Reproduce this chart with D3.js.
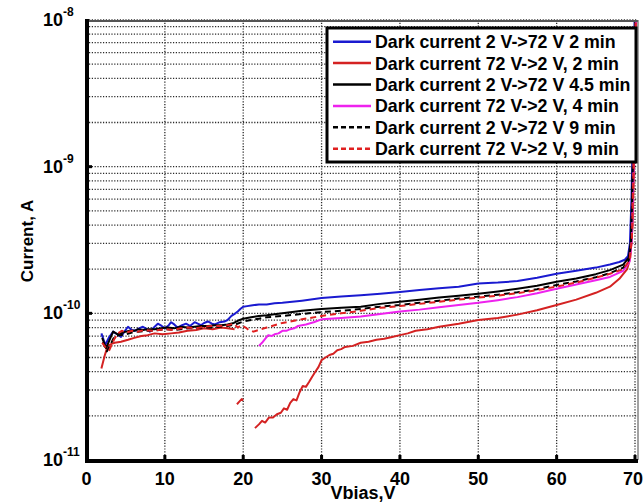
<!DOCTYPE html>
<html><head><meta charset="utf-8">
<script src="https://cdn.jsdelivr.net/npm/d3@7"></script>
<style>
body{margin:0;background:#fff}
svg{display:block}
text{font-family:Arial,"Liberation Sans",Helvetica,sans-serif;font-weight:bold;fill:#000}
</style>
</head><body>
<svg id="chart" width="644" height="504"></svg>
<script>
// ---------- data (V in volts, current in pA) ----------
const xTickValues = [0, 10, 20, 30, 40, 50, 60, 70];
const yTickExponents = [-8, -9, -10, -11];
const legendLabels = [
  "Dark current 2 V->72 V 2 min",
  "Dark current 72 V->2 V, 2 min",
  "Dark current 2 V->72 V 4.5 min",
  "Dark current 72 V->2 V, 4 min",
  "Dark current 2 V->72 V 9 min",
  "Dark current 72 V->2 V, 9 min"
];
const xTitle = "Vbias,V";
const yTitle = "Current, A";

const blue2min = [[1.9,73],[2.4,61],[2.9,69],[3.4,75],[3.9,72],[4.4,69],[4.9,76],[5.3,81],[5.8,77],[6.2,76],[6.7,79],[7.2,81],[7.7,78],[8.1,75],[8.6,80],[9.1,85],[9.6,82],[10,79],[10.5,83],[10.8,87],[11.2,84],[11.6,80],[12.2,83],[12.7,85],[13.2,82],[13.8,87],[14.2,85],[14.6,83],[15,86],[15.5,88],[16,85],[16.4,84],[17,87],[17.6,88],[18,90],[18.5,96],[19,100],[19.3,103],[19.7,108],[20,111],[20.5,112],[21,113],[22,115],[23,115],[24,117],[25,118],[27.5,122],[30,127],[32.5,130],[35,133],[37.5,136],[40,140],[42.5,144],[45,148],[47.5,152],[50,160],[52.5,162],[55,166],[57.5,175],[60,186],[62.5,195],[65,205],[66.8,215],[68,224],[68.7,232],[69.1,245],[69.35,300],[69.55,600],[69.75,2000],[69.95,10000]];

const red2min = [[1.9,42],[2.3,51],[2.7,60],[3.2,62],[3.6,63],[4.4,64],[5.3,66],[6.1,68],[7.0,70],[7.8,71],[8.7,73],[9.7,72],[10.8,73],[11.8,74],[12.9,76],[14.0,77],[15.0,79],[16.1,78],[17.2,80],[18.0,79],[18.9,78],null,[19.2,24],[19.5,25],[19.8,26],[20.0,25.5],null,[21.5,16.5],[22.0,17.5],[22.4,18.5],[22.8,18],[23.3,19.5],[23.8,19.5],[24.3,20.5],[24.8,21],[25.2,22.5],[25.6,22],[26.0,24.5],[26.4,26],[26.8,25.5],[27.2,29],[27.6,32],[28.0,31.5],[28.4,34],[28.8,37],[29.2,40],[29.6,43],[30.0,48],[30.5,50],[31,52],[31.5,53],[32,56],[32.5,57],[33,59],[34,60],[35,63],[36,64],[37,66],[38,67],[39,69],[40,71],[41,73],[42,76],[43.5,78],[45,81],[47.5,85],[50,90],[52.5,93],[55,98],[57.5,105],[60,114],[62.5,124],[65,138],[66.8,152],[68,172],[69,200],[69.4,240],[69.7,400],[69.9,1200],[70.05,4000],[70.15,10000]];

const black45min = [[2.0,68],[2.5,58],[3.0,67],[3.4,75],[4.0,72],[4.4,73],[5.0,75],[5.5,76],[6.1,76],[6.6,78],[7.2,77],[7.8,78],[8.7,78],[9.5,79],[10.3,80],[11.2,79],[12.0,81],[12.9,80],[13.8,81],[14.6,82],[15.5,82],[16.4,83],[17.2,83],[18.0,84],[18.8,86],[19.3,89],[20,92],[21,94],[22,96],[23,97],[25,100],[27.5,104],[30,107],[32.5,109],[35,111],[37.5,116],[40,120],[42.5,124],[45,128],[47.5,132],[50,136],[52.5,141],[55,147],[57.5,154],[60,164],[62.5,173],[65,185],[66.8,197],[68.5,215],[69.2,240],[69.5,320],[69.7,900],[69.85,3500],[70,10000]];

const magenta4min = [[22.0,60],[22.4,63],[22.8,67],[23.2,71],[23.6,70],[24.0,72],[24.5,73],[25.0,76],[25.5,76],[26.0,78],[26.5,79],[27.0,82],[27.5,83],[28,84],[29,87],[30,91],[32.5,93],[35,95],[37.5,99],[40,103],[42.5,106],[45,110],[47.5,114],[50,118],[52.5,123],[55,129],[57.5,137],[60,147],[62.5,157],[65,168],[66.8,177],[68.5,195],[69.3,225],[69.6,320],[69.8,900],[69.95,3500],[70.1,10000]];

const black9min = [[2.1,64],[2.6,55],[3.1,62],[3.6,70],[4.2,71],[5.0,72],[5.8,74],[6.6,75],[7.5,76],[8.4,76],[9.3,77],[10.2,78],[11.1,77],[12.0,78],[13.0,79],[14.0,79],[15.0,80],[16.0,80],[17.0,81],[18.0,82],[19.0,84],[20,88],[21,90],[22,92],[23,94],[25,96],[27.5,99],[30,102],[32.5,104],[35,107],[37.5,111],[40,114],[42.5,118],[45,122],[47.5,126],[50,130],[52.5,134],[55,139],[57.5,146],[60,156],[62.5,165],[65,176],[66.8,188],[68.5,205],[69.2,230],[69.5,300],[69.7,800],[69.85,3000],[70,10000]];

const red9min = [[2.0,63],[2.5,58],[2.9,56],[3.5,66],[4.0,73],[4.5,76],[5.1,74],[5.8,76],[6.5,75],[7.4,77],[8.3,76],[9.2,77],[10.0,78],[11.0,77],[12.0,79],[13.0,80],[14.0,79],[15.0,81],[16.0,82],[17.0,82],[18.0,83],[18.8,85],[19.3,80],[19.8,83],[20.3,80],[20.7,77],[21.3,75],[22,77],[23,80],[24,83],[25,86],[27.5,91],[30,96],[32.5,100],[35,104],[37.5,109],[40,112],[42.5,116],[45,120],[47.5,124],[50,128],[52.5,132],[55,137],[57.5,144],[60,152],[62.5,162],[65,175],[66.8,186],[68.5,200],[69.3,230],[69.6,320],[69.8,900],[69.95,3000],[70.1,10000]];

const seriesData = [blue2min, red2min, black45min, magenta4min, black9min, red9min];

// ---------- styles ----------
const seriesStyle = [
  {color:"#1a1ad0", dash:null},
  {color:"#d42222", dash:null},
  {color:"#000000", dash:null},
  {color:"#ee22ee", dash:null},
  {color:"#000000", dash:"6,4"},
  {color:"#e02020", dash:"6,4"}
];

const svg = d3.select("#chart");
const L = 87, R = 635, T = 20, B = 460;
const x = d3.scaleLinear().domain([0,70]).range([L-0.5, R]);
const y = d3.scaleLog().domain([1e-11,1e-8]).range([B, T]);

// clip
svg.append("defs").append("clipPath").attr("id","clip")
  .append("rect").attr("x",L).attr("y",T).attr("width",640-L).attr("height",B-T);

// grid
const gridG = svg.append("g");
const minorVals = [];
for (let e=-11; e<-8; e++) for (let k=1; k<=9; k++) minorVals.push(k*Math.pow(10,e));
minorVals.push(1e-8);
gridG.selectAll("line.h").data(minorVals).join("line")
  .attr("x1",L+2).attr("x2",R+2)
  .attr("y1",d=>y(d)).attr("y2",d=>y(d))
  .attr("stroke","#2a2a2a").attr("stroke-width",1.3).attr("stroke-dasharray","1.2,1.6");
gridG.selectAll("line.v").data(xTickValues.filter(d=>d>0)).join("line")
  .attr("x1",d=>x(d)).attr("x2",d=>x(d))
  .attr("y1",T).attr("y2",B)
  .attr("stroke","#2a2a2a").attr("stroke-width",1.3).attr("stroke-dasharray","1.2,1.6");

// curves
const line = d3.line()
  .defined(d=>d!==null)
  .x(d=>x(d[0])).y(d=>y(d[1]*1e-12));
const curveG = svg.append("g").attr("clip-path","url(#clip)");
seriesData.forEach((s,i)=>{
  curveG.append("path").datum(s)
    .attr("d", line)
    .attr("fill","none")
    .attr("stroke", seriesStyle[i].color)
    .attr("stroke-width", 2)
    .attr("stroke-linejoin","round")
    .attr("stroke-dasharray", seriesStyle[i].dash);
});

// box: top & right thin
svg.append("line").attr("x1",L).attr("x2",638).attr("y1",T+1).attr("y2",T+1)
  .attr("stroke","#555").attr("stroke-width",2);
svg.append("line").attr("x1",638).attr("x2",638).attr("y1",T).attr("y2",B)
  .attr("stroke","#666").attr("stroke-width",1.2);

// axes (thick)
svg.append("line").attr("x1",L).attr("x2",L).attr("y1",T-1).attr("y2",B+3)
  .attr("stroke","#000").attr("stroke-width",4);
svg.append("line").attr("x1",L-2).attr("x2",638).attr("y1",B+1).attr("y2",B+1)
  .attr("stroke","#000").attr("stroke-width",4);

// ticks
svg.selectAll("rect.xt").data(xTickValues.filter(d=>d>0)).join("rect")
  .attr("x",d=>x(d)-1.5).attr("y",B-5).attr("width",3).attr("height",5).attr("fill","#000");
svg.selectAll("rect.yt").data([-9,-10]).join("rect")
  .attr("x",L).attr("y",d=>y(Math.pow(10,d))-1.5).attr("width",5).attr("height",3).attr("fill","#000");

// x tick labels
svg.selectAll("text.xl").data(xTickValues).join("text")
  .attr("x",d=>x(d)+(d===70?-2:0)).attr("y",485)
  .attr("text-anchor","middle").attr("font-size",18)
  .text(d=>d);

// y tick labels
yTickExponents.forEach(e=>{
  const ty = y(Math.pow(10,e));
  const t = svg.append("text").attr("x",43).attr("y",ty+6).attr("font-size",18);
  t.append("tspan").text("10");
  t.append("tspan").attr("dy",-10).attr("font-size",12).text(String(e));
});

// axis titles
svg.append("text").attr("x",363).attr("y",499).attr("text-anchor","middle")
  .attr("font-size",18).text(xTitle);
svg.append("text").attr("transform","translate(33,241) rotate(-90)")
  .attr("text-anchor","middle").attr("font-size",17).text(yTitle);

// legend
const lg = svg.append("g");
lg.append("rect").attr("x",327).attr("y",28).attr("width",309).attr("height",134)
  .attr("fill","#fff").attr("stroke","#000").attr("stroke-width",3);
legendLabels.forEach((lab,i)=>{
  const cy = 41.7 + i*21.4;
  lg.append("line").attr("x1",333).attr("x2",371).attr("y1",cy).attr("y2",cy)
    .attr("stroke",seriesStyle[i].color).attr("stroke-width",2.5)
    .attr("stroke-dasharray",seriesStyle[i].dash ? "5,3" : null);
  lg.append("text").attr("x",375).attr("y",cy+6.5).attr("font-size",17.8).text(lab);
});
</script>
</body></html>
